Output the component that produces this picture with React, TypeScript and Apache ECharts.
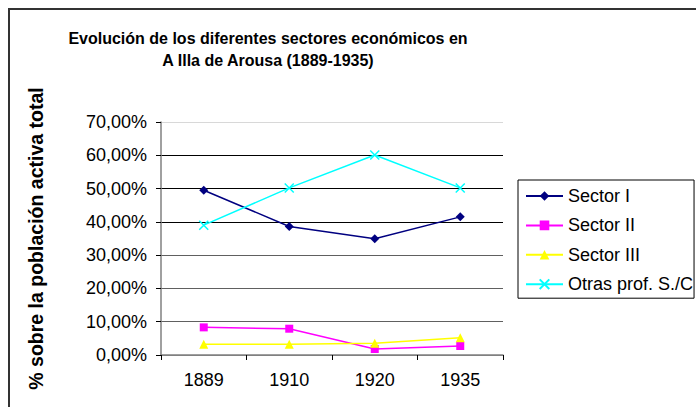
import React, { useEffect, useRef } from "react";
import * as echarts from "echarts";

const years = ["1889", "1910", "1920", "1935"];
const sectorI = [49.5, 38.6, 34.9, 41.5];
const sectorII = [8.3, 7.9, 1.8, 2.7];
const sectorIII = [3.2, 3.2, 3.5, 5.2];
const otras = [39.0, 50.2, 60.1, 50.2];
const seriesNames = ["Sector I", "Sector II", "Sector III", "Otras prof. S./C"];
const titleLines = ["Evolución de los diferentes sectores económicos en", "A Illa de Arousa (1889-1935)"];
const yAxisTitle = "% sobre la población activa total";

const FONT = "Arial, 'Liberation Sans', Helvetica, sans-serif";

export default function App() {
  const ref = useRef<HTMLDivElement>(null);
  useEffect(() => {
    if (!ref.current) return;
    const chart = echarts.init(ref.current, null, { renderer: "svg" });
    const mk = (name: string, data: number[], color: string, symbol: string, size: number, extra: any = {}) => ({
      name,
      type: "line",
      data,
      symbol,
      symbolSize: size,
      lineStyle: { color, width: 1.5 },
      itemStyle: { color, ...extra },
      emphasis: { disabled: true },
    });
    chart.setOption({
      animation: false,
      backgroundColor: "#fff",
      textStyle: { fontFamily: FONT },
      graphic: [
        {
          type: "rect",
          shape: { x: 9, y: 9, width: 900, height: 600 },
          style: { fill: "none", stroke: "#333", lineWidth: 2 },
          silent: true,
        },
        {
          type: "text",
          x: 268,
          y: 38,
          style: { text: titleLines[0], textAlign: "center", textVerticalAlign: "middle", font: `bold 16px ${FONT}`, fill: "#000" },
        },
        {
          type: "text",
          x: 268,
          y: 60,
          style: { text: titleLines[1], textAlign: "center", textVerticalAlign: "middle", font: `bold 16px ${FONT}`, fill: "#000" },
        },
      ],
      grid: { left: 161, top: 122, right: 193, bottom: 52, containLabel: false },
      legend: {
        orient: "vertical",
        left: 518,
        top: 180,
        borderColor: "#000",
        borderWidth: 1,
        backgroundColor: "#fff",
        padding: [7, 1, 5, 7],
        itemWidth: 37,
        itemHeight: 12,
        itemGap: 11.4,
        textStyle: { fontSize: 18, color: "#000", fontFamily: FONT },
        data: seriesNames,
      },
      xAxis: {
        type: "category",
        data: years,
        boundaryGap: true,
        axisLine: { lineStyle: { color: "#808080", width: 1.5 } },
        axisTick: { show: true, length: 5, lineStyle: { color: "#000" } },
        axisLabel: { fontSize: 18, color: "#000", margin: 16 },
        splitLine: { show: false },
      },
      yAxis: {
        type: "value",
        min: 0,
        max: 70,
        interval: 10,
        name: yAxisTitle,
        nameLocation: "middle",
        nameGap: 115,
        nameRotate: 90,
        nameTextStyle: { fontSize: 19.5, fontWeight: "bold", color: "#000", fontFamily: FONT },
        axisLine: { show: true, lineStyle: { color: "#808080", width: 1.5 } },
        axisTick: { show: true, length: 5, lineStyle: { color: "#000" } },
        axisLabel: {
          fontSize: 18,
          color: "#000",
          margin: 14,
          formatter: (v: number) => v.toFixed(2).replace(".", ",") + "%",
        },
        splitLine: {
          show: true,
          lineStyle: {
            color: ["#808080", "#606060", "#606060", "#606060", "#000", "#000", "#000", "#d8d8d8"],
            width: 1,
          },
        },
      },
      series: [
        mk(seriesNames[0], sectorI, "#000080", "diamond", 9),
        mk(seriesNames[1], sectorII, "#FF00FF", "rect", 8),
        mk(seriesNames[2], sectorIII, "#FFFF00", "triangle", 9),
        mk(seriesNames[3], otras, "#00FFFF", "path://M0,0L10,10M10,0L0,10", 9, { borderColor: "#00FFFF", borderWidth: 1.5 }),
      ],
    });
    return () => chart.dispose();
  }, []);
  return <div ref={ref} style={{ position: "absolute", left: 0, top: 0, width: 696, height: 407 }} />;
}
